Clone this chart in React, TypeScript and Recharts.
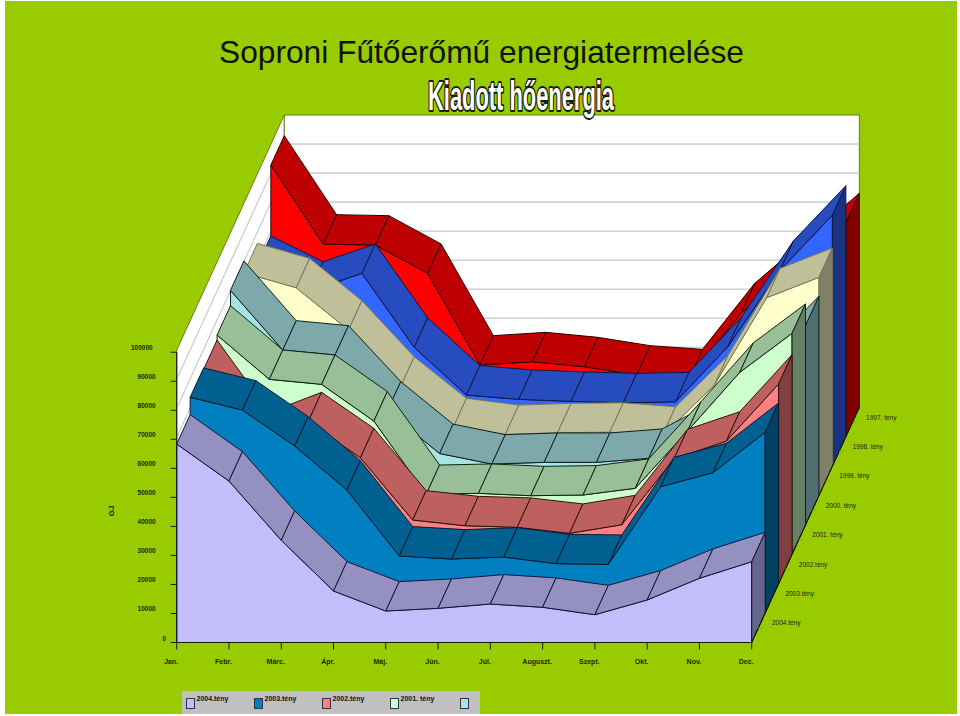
import { Scatter, ScatterChart, XAxis, YAxis } from "recharts";

// months along the front, years going back into the picture
const months = ["Jan.", "Febr.", "Márc.", "Ápr.", "Máj.", "Jún.", "Júl.", "Auguszt.", "Szept.", "Okt.", "Nov.", "Dec."];
const valueTicks = [0, 10000, 20000, 30000, 40000, 50000, 60000, 70000, 80000, 90000, 100000];

const y2004 = [68380, 55630, 35200, 17740, 10850, 11780, 13260, 12130, 9580, 14640, 22120, 27830];
const y2003 = [74340, 69960, 57560, 42400, 19670, 18640, 19320, 17020, 16810, 43540, 48360, 62280];
const y2002 = [73820, 48900, 55800, 43400, 21940, 19980, 19430, 17360, 20320, 43060, 49120, 68790];
const y2001 = [75540, 60280, 58560, 45920, 20630, 21010, 20190, 20430, 22740, 42470, 62700, 76130];
const y2000 = [80810, 60250, 58530, 39230, 24600, 20980, 21560, 21560, 22940, 32340, 50430, 68620];
const y1999 = [76750, 71580, 57010, 37680, 23360, 21050, 21630, 21840, 20460, 38060, 68140, 75170];
const y1998 = [69140, 60280, 66410, 40920, 24490, 23010, 22320, 21840, 22180, 41130, 67520, 86460];
const y1997 = [93590, 66380, 66030, 56290, 24700, 25840, 24110, 21250, 19980, 42720, 58200, 73720];

const seriesValues = [y2004, y2003, y2002, y2001, y2000, y1999, y1998, y1997];
const seriesNames = ["2004.tény", "2003.tény", "2002.tény", "2001. tény", "2000. tény", "1999. tény", "1998. tény", "1997. tény"];
const frontColors = ["#C2BEFC", "#0080C0", "#FF8080", "#CCFFCC", "#A8E4E6", "#FFFFCC", "#3366FF", "#FF0000"];
const bandColors = ["#9490C0", "#006090", "#BF6060", "#99BF99", "#7DA9AA", "#BFBF99", "#264CBF", "#BF0000"];
const sideColors = ["#66668C", "#004060", "#804040", "#668066", "#507070", "#808066", "#1A3380", "#800000"];
const edgeColors = ["#14143C", "#0A1A30", "#301010", "#102010", "#102020", "#77775A", "#101840", "#300000"];

const legendEntries = ["2004.tény", "2003.tény", "2002.tény", "2001. tény", ""];
const legendSwatches = ["#C2BEFC", "#0080C0", "#FF8080", "#CCFFCC", "#A8E4E6"];

// oblique projection: one year back moves this far right (in months) and up (in GJ)
const DEPTH_X = 0.2573;
const DEPTH_Y = 10127;
const YEARS = seriesValues.length;
// the walls sit a touch higher than the axis ticks in the original
const WALL_LIFT = 700;

type Pt = { x: number; y: number };
const at = (month: number, value: number, depth: number): Pt => ({
  x: month + depth * DEPTH_X,
  y: value + depth * DEPTH_Y,
});

const xMax = 11 + YEARS * DEPTH_X;
const yMax = 190000;

// Scatter hands its scaled points to `line`, so a face is just a closed path through them
function face(key: string, pts: Pt[], fill: string, stroke: string, strokeWidth = 1) {
  const draw = (p: any) => (
    <path
      d={"M" + p.points.map((q: any) => `${q.x},${q.y}`).join("L") + "Z"}
      fill={fill}
      stroke={stroke}
      strokeWidth={strokeWidth}
      strokeLinejoin="round"
    />
  );
  return <Scatter key={key} data={pts} line={draw} shape={() => <g />} isAnimationActive={false} />;
}

function walls() {
  const top = 100000 + WALL_LIFT;
  const out = [
    face("wall-left", [at(0, 0, 0), at(0, top, 0), at(0, top, YEARS), at(0, 0, YEARS)], "#FFFFFF", "#4D6600", 0.8),
    face("wall-back", [at(0, 0, YEARS), at(0, top, YEARS), at(11, top, YEARS), at(11, 0, YEARS)], "#FFFFFF", "#4D6600", 0.8),
  ];
  valueTicks.slice(1, -1).forEach((v) => {
    const h = v + WALL_LIFT;
    out.push(face(`grid-l-${v}`, [at(0, h, 0), at(0, h, YEARS)], "none", "#C8C8C8", 0.9));
    out.push(face(`grid-b-${v}`, [at(0, h, YEARS), at(11, h, YEARS)], "none", "#C8C8C8", 0.9));
  });
  return out;
}

function yearFaces(k: number) {
  const vals = seriesValues[k];
  const edge = edgeColors[k];
  const out = [];
  const last = vals.length - 1;
  out.push(
    face(
      `front-${k}`,
      [at(0, 0, k), ...vals.map((v, m) => at(m, v, k)), at(last, 0, k)],
      frontColors[k],
      edge
    )
  );
  for (let m = 0; m < last; m++) {
    out.push(
      face(
        `band-${k}-${m}`,
        [at(m, vals[m], k), at(m + 1, vals[m + 1], k), at(m + 1, vals[m + 1], k + 1), at(m, vals[m], k + 1)],
        bandColors[k],
        edge
      )
    );
  }
  out.push(
    face(`side-${k}`, [at(last, 0, k), at(last, vals[last], k), at(last, vals[last], k + 1), at(last, 0, k + 1)], sideColors[k], edge)
  );
  return out;
}

const yearLabels = seriesNames.map((name, k) => ({ ...at(11, 0, k + 0.5), name }));

function YearLabel(p: any) {
  return (
    <g>
      <line x1={p.cx} y1={p.cy} x2={p.cx + 4} y2={p.cy} stroke="#7FA800" strokeWidth={0.8} />
      <text x={p.cx + 13.5} y={p.cy - 2.5} fontSize={6.5} fontFamily="Liberation Sans" fill="#222">
        {p.payload.name}
      </text>
    </g>
  );
}

function MonthTick(p: any) {
  return (
    <text x={p.x - 5.5} y={p.y + 12} textAnchor="middle" fontSize={7} fontWeight="bold" fontFamily="Liberation Sans" fill="#1A2A00">
      {months[p.payload.value]}
    </text>
  );
}

function ValueTick(p: any) {
  const v = p.payload.value;
  const right = v === 0 ? 166 : v === 100000 ? 152.7 : 155.7;
  return (
    <text x={right} y={p.y - 2} textAnchor="end" fontSize={6.5} fontWeight="bold" fontFamily="Liberation Sans" fill="#1A2A00">
      {v}
    </text>
  );
}

function LegendBox() {
  return (
    <div
      style={{
        position: "absolute",
        left: 182,
        top: 690.5,
        width: 298,
        height: 23.5,
        background: "#C0C0C0",
        fontFamily: "Liberation Sans",
        fontSize: 7,
        fontWeight: "bold",
        color: "#111",
      }}
    >
      {legendEntries.map((name, i) => (
        <div key={i} style={{ position: "absolute", left: (i === 4 ? 278 : 4 + i * 68), top: 7, width: 60 }}>
          <span
            style={{
              position: "absolute",
              left: 0,
              top: 0,
              width: 6.5,
              height: 9,
              background: legendSwatches[i],
              border: "1px solid #334",
            }}
          />
          <span style={{ position: "absolute", left: 10.5, top: -3 }}>{name}</span>
        </div>
      ))}
    </div>
  );
}

function Titles() {
  return (
    <svg width={960} height={130} style={{ position: "absolute", left: 0, top: 0 }}>
      <text x={219} y={63} fontSize={31.7} fontFamily="Liberation Sans" fill="#111">
        Soproni Fűtőerőmű energiatermelése
      </text>
      <g transform="translate(428 110) scale(1 1.36)">
        <text
          x={0}
          y={0}
          fontSize={30}
          fontWeight="bold"
          fontFamily="Liberation Sans Narrow, Liberation Sans"
          textLength={186}
          lengthAdjust="spacingAndGlyphs"
          fill="#FFFFFF"
          stroke="#10200A"
          strokeWidth={2.8}
          paintOrder="stroke"
          strokeLinejoin="round"
        >
          Kiadott hőenergia
        </text>
      </g>
    </svg>
  );
}

export default function App() {
  const order = seriesValues.map((_, k) => YEARS - 1 - k);
  return (
    <div style={{ position: "absolute", left: 0, top: 0, width: 960, height: 716, background: "#FFFFFF", overflow: "hidden" }}>
      {/* the slide stops a few px short of the picture edge */}
      <div style={{ position: "absolute", left: 4.7, top: 1, width: 952, height: 713, background: "#99CC00" }} />
      <div style={{ position: "absolute", left: 0, top: 0 }}>
        <ScatterChart width={960} height={716} margin={{ top: 91, right: 100.7, bottom: 0, left: 0 }}>
          <XAxis
            type="number"
            dataKey="x"
            domain={[0, xMax]}
            ticks={months.map((_, i) => i)}
            interval={0}
            axisLine={false}
            tickLine={{ stroke: "#10200A", strokeWidth: 1 }}
            tickSize={7}
            height={73.5}
            tick={MonthTick}
          />
          <YAxis
            type="number"
            dataKey="y"
            domain={[0, yMax]}
            ticks={valueTicks}
            interval={0}
            axisLine={false}
            tickLine={{ stroke: "#10200A", strokeWidth: 1 }}
            tickSize={6}
            width={176.7}
            tick={ValueTick}
          />
          {walls()}
          {order.map((k) => yearFaces(k))}
          {face("axis-y", [at(0, 0, 0), at(0, 100000, 0)], "none", "#10200A", 1.2)}
          {face("axis-x", [at(0, 0, 0), at(11, 0, 0)], "none", "#10200A", 1.2)}
          {face("axis-z", [at(11, 0, 0), at(11, 0, YEARS)], "none", "#10200A", 1)}
          <Scatter data={yearLabels} shape={YearLabel} isAnimationActive={false} />
        </ScatterChart>
      </div>
      <Titles />
      <div
        style={{
          position: "absolute",
          left: 105,
          top: 511,
          transform: "translate(-50%,-50%) rotate(-90deg)",
          fontFamily: "Liberation Sans",
          fontSize: 8,
          fontWeight: "bold",
          color: "#1A2A00",
          marginLeft: 6,
        }}
      >
        GJ
      </div>
      <LegendBox />
    </div>
  );
}
